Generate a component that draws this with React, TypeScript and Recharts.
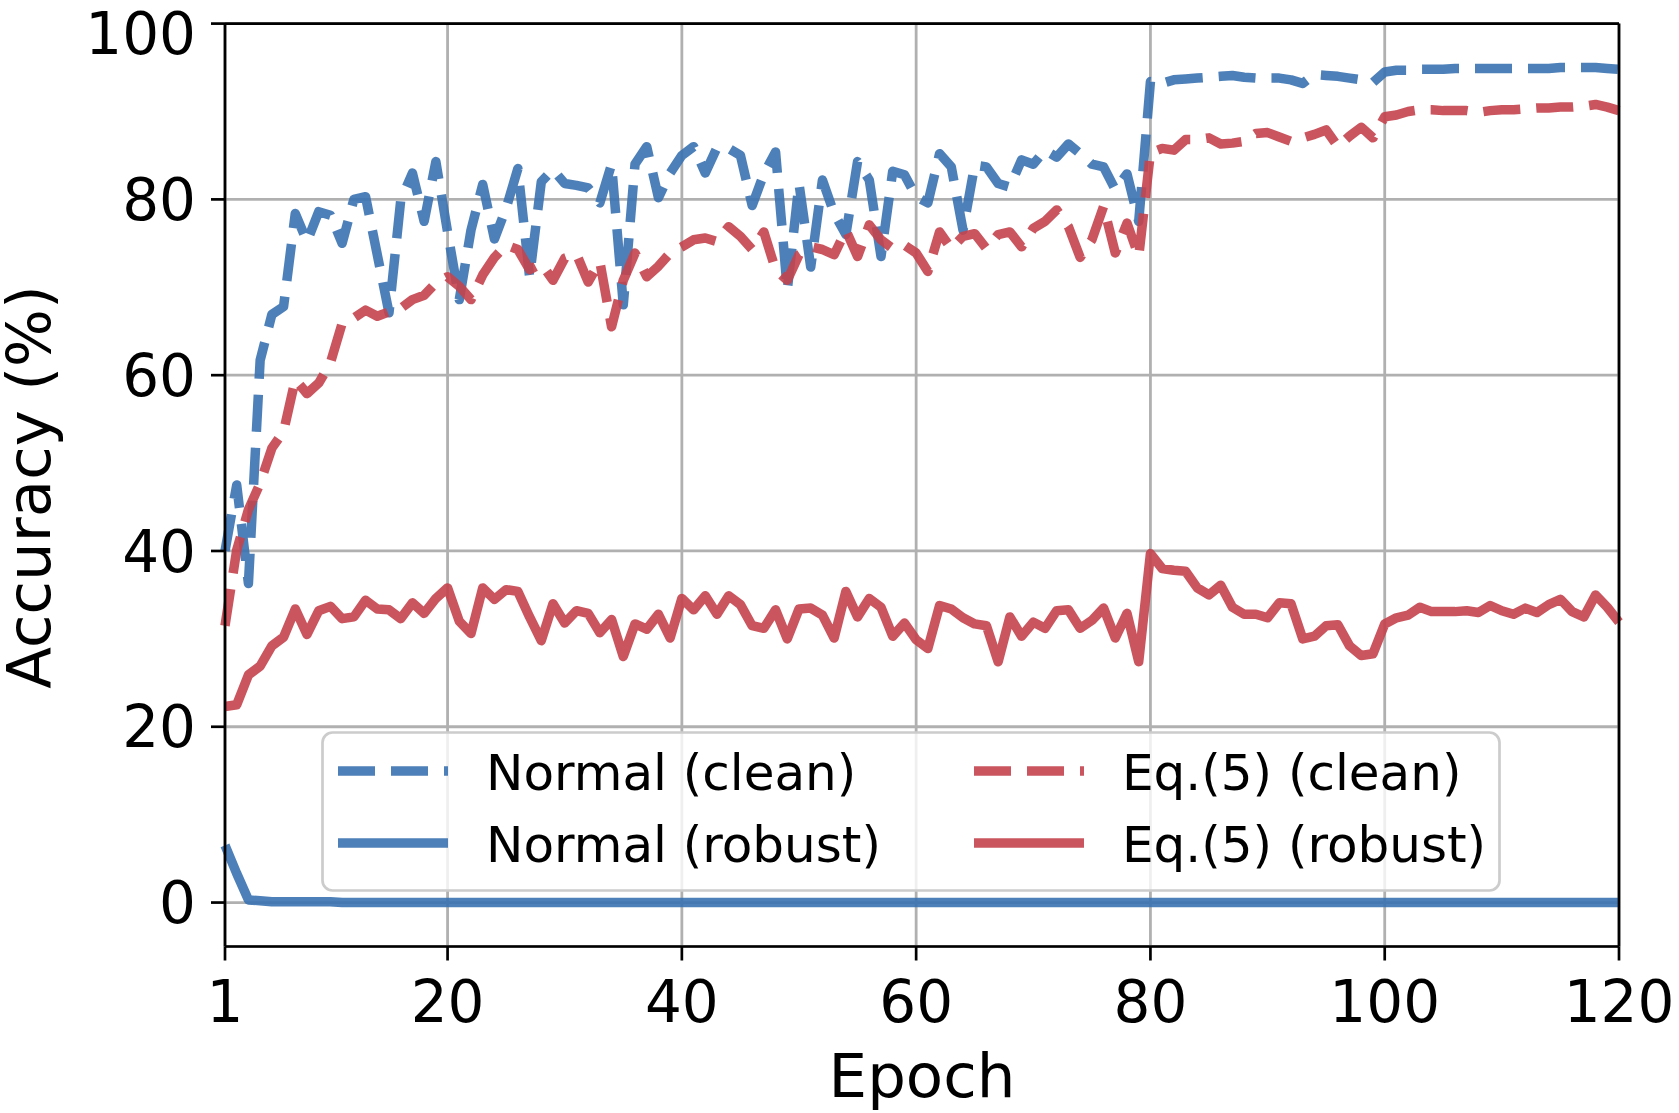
import { CartesianGrid, Legend, Line, LineChart, ReferenceLine, XAxis, YAxis } from 'recharts';

const epochs = Array.from({ length: 120 }, (_, i) => i + 1);

const normalClean = [
  40.0, 47.5, 36.3, 61.7, 66.9, 67.8, 78.4, 75.2, 78.6, 78.2,
  75.0, 80.0, 80.3, 73.7, 67.1, 79.9, 83.0, 77.5, 84.3, 76.3,
  68.6, 76.5, 81.7, 75.5, 79.0, 83.5, 71.2, 82.0, 83.4, 81.8,
  81.6, 81.3, 79.6, 84.0, 68.0, 84.0, 86.0, 80.2, 83.0, 85.0,
  86.0, 83.0, 85.9, 85.8, 85.0, 79.3, 82.9, 85.4, 69.7, 81.8,
  72.3, 82.2, 78.4, 76.0, 84.3, 82.2, 73.5, 83.2, 82.8, 80.3,
  79.6, 85.2, 83.7, 76.5, 83.9, 83.7, 81.8, 81.4, 84.5, 84.0,
  85.6, 84.8, 86.3, 85.2, 84.0, 83.7, 81.1, 82.9, 77.5, 93.4,
  93.2, 93.6, 93.7, 93.8, 93.9, 94.0, 94.1, 93.9, 93.8, 93.8,
  93.8, 93.6, 93.2, 94.2, 94.1, 94.0, 93.8, 93.6, 93.3, 94.5,
  94.7, 94.7, 94.8, 94.8, 94.8, 94.9, 94.9, 94.9, 94.9, 94.9,
  94.9, 94.9, 94.9, 94.9, 95.0, 95.0, 95.0, 95.0, 94.9, 94.8,
];

const normalRobust = [
  6.5, 3.3, 0.3, 0.2, 0.1, 0.1, 0.1, 0.1, 0.1, 0.1,
  0, 0, 0, 0, 0, 0, 0, 0, 0, 0,
  0, 0, 0, 0, 0, 0, 0, 0, 0, 0,
  0, 0, 0, 0, 0, 0, 0, 0, 0, 0,
  0, 0, 0, 0, 0, 0, 0, 0, 0, 0,
  0, 0, 0, 0, 0, 0, 0, 0, 0, 0,
  0, 0, 0, 0, 0, 0, 0, 0, 0, 0,
  0, 0, 0, 0, 0, 0, 0, 0, 0, 0,
  0, 0, 0, 0, 0, 0, 0, 0, 0, 0,
  0, 0, 0, 0, 0, 0, 0, 0, 0, 0,
  0, 0, 0, 0, 0, 0, 0, 0, 0, 0,
  0, 0, 0, 0, 0, 0, 0, 0, 0, 0,
];

const eqClean = [
  31.5, 40.1, 44.7, 47.7, 51.7, 53.6, 59.5, 57.9, 59.1, 61.4,
  65.9, 66.5, 67.4, 66.7, 67.2, 67.6, 68.6, 69.1, 70.5, 71.2,
  70.1, 68.6, 71.4, 73.4, 74.8, 74.3, 72.0, 72.7, 70.8, 73.3,
  73.8, 70.6, 72.9, 65.5, 70.8, 73.9, 71.2, 72.4, 73.9, 74.6,
  75.4, 75.6, 75.2, 76.9, 75.8, 74.3, 76.3, 72.0, 70.8, 73.7,
  74.6, 74.3, 73.7, 76.5, 73.5, 77.1, 75.4, 74.4, 74.8, 73.9,
  71.8, 76.3, 74.4, 75.8, 76.1, 74.4, 76.0, 76.3, 74.6, 76.7,
  77.5, 78.8, 76.9, 73.4, 75.4, 79.2, 73.9, 77.3, 73.5, 85.3,
  85.8, 85.6, 86.8, 86.8, 87.0, 86.3, 86.4, 86.6, 87.5, 87.6,
  87.1, 86.6, 87.0, 87.4, 87.9, 86.0, 87.2, 88.2, 87.0, 89.4,
  89.6, 90.0, 90.2, 90.2, 90.1, 90.1, 90.1, 89.9, 90.1, 90.2,
  90.2, 90.3, 90.4, 90.4, 90.5, 90.5, 90.6, 90.8, 90.5, 90.1,
];

const eqRobust = [
  22.3, 22.5, 25.9, 26.9, 29.2, 30.2, 33.4, 30.5, 33.2, 33.7,
  32.3, 32.5, 34.4, 33.4, 33.3, 32.3, 34.1, 32.9, 34.6, 35.8,
  32.0, 30.6, 35.8, 34.5, 35.6, 35.4, 32.5, 29.8, 34.0, 31.8,
  33.2, 32.9, 30.7, 32.2, 28.0, 31.7, 31.1, 32.8, 30.1, 34.6,
  33.3, 34.9, 32.8, 34.9, 33.9, 31.5, 31.2, 33.3, 30.0, 33.4,
  33.5, 32.7, 30.1, 35.4, 32.5, 34.6, 33.6, 30.3, 31.8, 29.9,
  28.9, 33.8, 33.4, 32.4, 31.7, 31.5, 27.4, 32.5, 30.3, 31.9,
  31.2, 33.2, 33.3, 31.2, 32.1, 33.5, 30.1, 32.9, 27.4, 39.7,
  38.0, 37.8, 37.7, 35.8, 35.0, 36.1, 33.6, 32.8, 32.8, 32.4,
  34.1, 34.0, 30.0, 30.3, 31.5, 31.6, 29.2, 28.1, 28.3, 31.7,
  32.4, 32.7, 33.6, 33.1, 33.1, 33.1, 33.2, 33.0, 33.8, 33.2,
  32.8, 33.5, 33.0, 33.9, 34.5, 33.1, 32.5, 35.0, 33.6, 31.9,
];

const xTicks = [1, 20, 40, 60, 80, 100, 120];
const yTicks = [0, 20, 40, 60, 80, 100];

const BLUE = '#3a72b0';
const RED = '#c4434d';
const FONT = 'DejaVu Sans, sans-serif';
const DASH = '37 16';

const series = [
  { key: 'normalClean', name: 'Normal (clean)', color: BLUE, dashed: true },
  { key: 'normalRobust', name: 'Normal (robust)', color: BLUE, dashed: false },
  { key: 'eqClean', name: 'Eq.(5) (clean)', color: RED, dashed: true },
  { key: 'eqRobust', name: 'Eq.(5) (robust)', color: RED, dashed: false },
];

const data = epochs.map((epoch, i) => ({
  epoch,
  normalClean: normalClean[i],
  normalRobust: normalRobust[i],
  eqClean: eqClean[i],
  eqRobust: eqRobust[i],
}));

// axis titles ignore whatever props recharts passes when it clones them
function XTitle() {
  return (
    <text x={922} y={1097} textAnchor="middle" fontSize={61} fontFamily={FONT} fill="#000">
      Epoch
    </text>
  );
}

function YTitle() {
  return (
    <text
      x={50}
      y={487}
      transform="rotate(-90 50 487)"
      textAnchor="middle"
      fontSize={61}
      fontFamily={FONT}
      fill="#000"
    >
      Accuracy (%)
    </text>
  );
}

function LegendBox() {
  // two columns: normal on the left, Eq.(5) on the right
  const cols = [0, 636];
  return (
    <svg width={1180} height={161} style={{ display: 'block' }}>
      <rect x={1.5} y={1.5} width={1177} height={158} rx={10} fill="#fff" fillOpacity={0.8} stroke="#cccccc" strokeWidth={2.7} />
      {series.map((s, i) => {
        const col = cols[Math.floor(i / 2)];
        const row = i % 2;
        return (
          <g key={s.key}>
            <line
              x1={17 + col}
              x2={127 + col}
              y1={40 + row * 72}
              y2={40 + row * 72}
              stroke={s.color}
              strokeOpacity={0.9}
              strokeWidth={9.5}
              strokeDasharray={s.dashed ? DASH : undefined}
            />
            <text x={165 + col} y={59 + row * 72} fontSize={50} fontFamily={FONT} fill="#000">
              {s.name}
            </text>
          </g>
        );
      })}
    </svg>
  );
}

export default function App() {
  return (
    <div style={{ width: 1679, height: 1113, background: '#fff' }}>
      <style>{'body { margin: 0; }'}</style>
      <LineChart width={1679} height={1113} data={data} margin={{ top: 23.6, right: 60, left: 0, bottom: 0 }}>
        <CartesianGrid stroke="#b0b0b0" strokeWidth={2.8} />
        <XAxis
          dataKey="epoch"
          type="number"
          domain={[1, 120]}
          ticks={xTicks}
          height={166.5}
          tickSize={14}
          tickMargin={20}
          axisLine={{ stroke: '#000', strokeWidth: 2.7 }}
          tickLine={{ stroke: '#000', strokeWidth: 2.7 }}
          tick={{ fill: '#000', fontSize: 58, fontFamily: FONT }}
          label={<XTitle />}
        />
        <YAxis
          type="number"
          domain={[-5, 100]}
          ticks={yTicks}
          width={225}
          tickSize={14}
          tickMargin={15}
          axisLine={{ stroke: '#000', strokeWidth: 2.7 }}
          tickLine={{ stroke: '#000', strokeWidth: 2.7 }}
          tick={{ fill: '#000', fontSize: 58, fontFamily: FONT }}
          label={<YTitle />}
        />
        {series.map((s) => (
          <Line
            key={s.key}
            type="linear"
            dataKey={s.key}
            name={s.name}
            stroke={s.color}
            strokeOpacity={0.9}
            strokeWidth={9.5}
            strokeDasharray={s.dashed ? DASH : undefined}
            strokeLinejoin="round"
            dot={false}
            activeDot={false}
            isAnimationActive={false}
          />
        ))}
        <ReferenceLine y={100} stroke="#000" strokeWidth={2.7} />
        <ReferenceLine x={120} stroke="#000" strokeWidth={2.7} />
        <Legend
          layout="horizontal"
          verticalAlign="middle"
          wrapperStyle={{ left: 321, top: 731, width: 1180, height: 161 }}
          content={() => <LegendBox />}
        />
      </LineChart>
    </div>
  );
}
